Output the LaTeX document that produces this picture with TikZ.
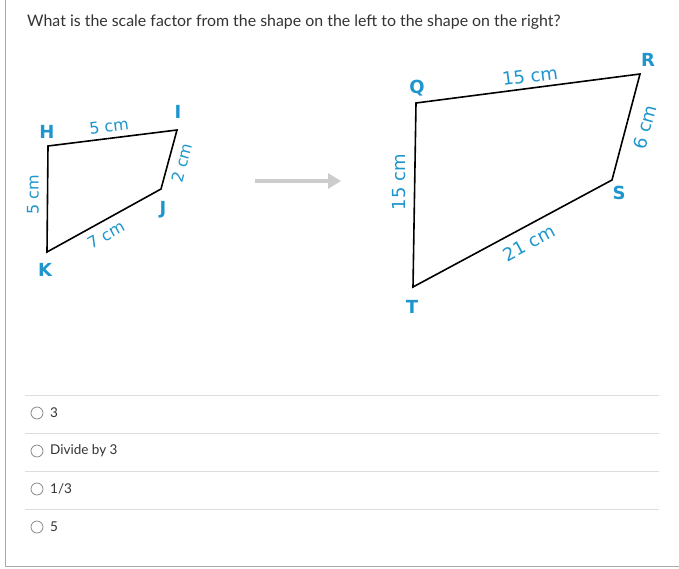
\documentclass[tikz,border=0pt]{standalone}
\usepackage{fontspec}
\setmainfont{Lato}
\newfontfamily\lblfont{DejaVu Sans}
\usetikzlibrary{arrows.meta}
\definecolor{lblblue}{RGB}{30,150,205}
\definecolor{txtgray}{RGB}{51,51,51}
\definecolor{rulegray}{RGB}{221,221,221}
\definecolor{framegray}{RGB}{170,170,170}
\tikzset{
	vlabel/.style={font=\lblfont\bfseries\fontsize{18}{18}\selectfont, text=lblblue, inner sep=0pt},
	elabel/.style={font=\lblfont\fontsize{16}{16}\selectfont, text=lblblue, inner sep=0pt},
	biglabel/.style={elabel, font=\lblfont\fontsize{18}{18}\selectfont},
	quad/.style={draw=black, line width=1.6pt, line join=miter},
	optcircle/.style={draw=gray, circle, minimum size=12pt, inner sep=0pt, line width=0.7pt},
	opttext/.style={anchor=west, text=txtgray, font=\fontsize{13.5}{14}\selectfont, inner sep=0pt}
}
\begin{document}
\begin{tikzpicture}[x=1pt,y=-1pt]
		\useasboundingbox (0,0) rectangle (679,569);
		\draw[framegray, line width=1pt] (5,0) -- (5,566) -- (679,566);
		\node[anchor=west, text=txtgray, font=\fontsize{15.9}{16}\selectfont, inner sep=0pt] (question) at (27,22)
			{What is the scale factor from the shape on the left to the shape on the right?};
		% left shape
		\coordinate (H) at (48,146);
		\coordinate (I) at (177,130);
		\coordinate (J) at (161,189);
		\coordinate (K) at (47,252);
		\draw[quad] (H) -- (I) -- (J) -- (K) -- cycle;
		\node[elabel, rotate=7.1] (eHI) at (109,126) {5 cm};
		\node[elabel, rotate=74.8] (eIJ) at (182,163) {2 cm};
		\node[elabel, rotate=28.9] (eJK) at (106,235) {7 cm};
		\node[elabel, rotate=90] (eKH) at (33,195) {5 cm};
		\node[vlabel] (lH) at (47,132) {H};
		\node[vlabel] (lI) at (178,112) {I};
		\node[vlabel] (lJ) at (163,210) {J};
		\node[vlabel] (lK) at (45,270) {K};
		% arrow
		\coordinate (arrS) at (255,181);
		\coordinate (arrE) at (341,181);
		\draw[black!20, line width=3.5pt, -{Triangle[length=13pt,width=15pt]}] (arrS) -- (arrE);
		% right shape
		\coordinate (Q) at (416,103);
		\coordinate (R) at (640,74);
		\coordinate (S) at (612,180);
		\coordinate (T) at (413,287);
		\draw[quad] (Q) -- (R) -- (S) -- (T) -- cycle;
		\node[biglabel, rotate=7.4] (eQR) at (530,76) {15 cm};
		\node[biglabel, rotate=74.6] (eRS) at (645,127) {6 cm};
		\node[biglabel, rotate=28.3] (eST) at (529,243) {21 cm};
		\node[biglabel, rotate=90] (eTQ) at (399,182) {15 cm};
		\node[vlabel] (lQ) at (417,88) {Q};
		\node[vlabel] (lR) at (648,60) {R};
		\node[vlabel] (lS) at (619,193) {S};
		\node[vlabel] (lT) at (412,307) {T};
		% answer choices
		\foreach \y in {395,433,471,509}
			\draw[rulegray, line width=1pt] (25,\y) -- (659,\y);
		\foreach \y/\t [count=\i] in {413/3, 451/Divide by 3, 489/1\slash 3, 527/5} {
			\node[optcircle] (c\i) at (37,\y) {};
			\node[opttext] (o\i) at (50,\y) {\t};
		}
	\end{tikzpicture}
\end{document}
